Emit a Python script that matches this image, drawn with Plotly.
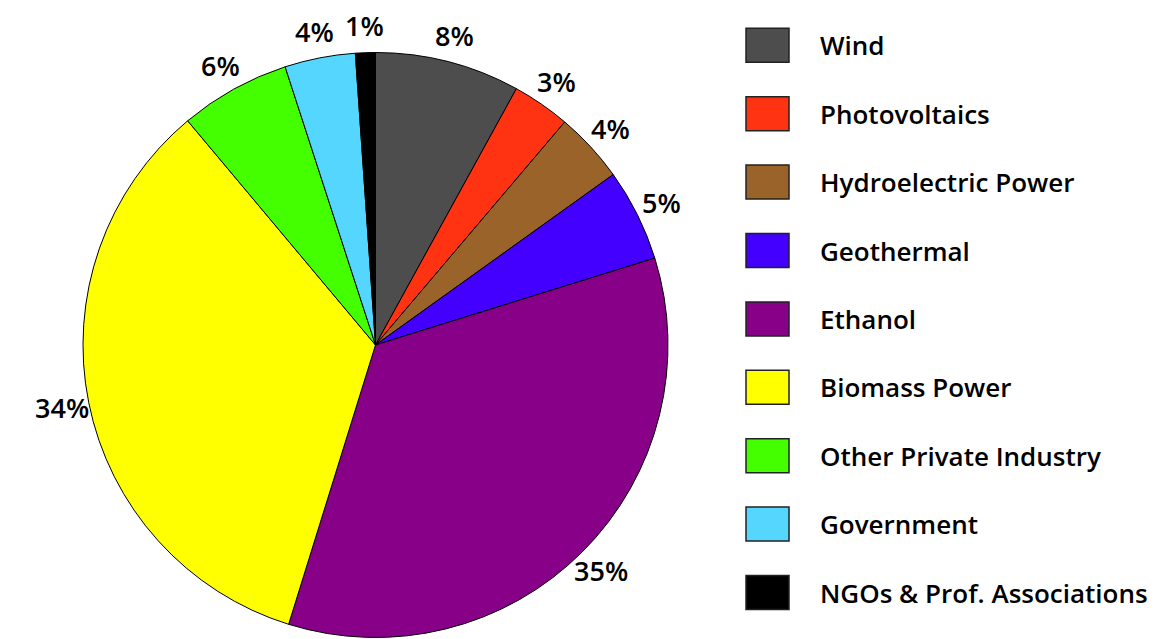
import math
import plotly.graph_objects as go

labels = ["Wind", "Photovoltaics", "Hydroelectric Power", "Geothermal", "Ethanol",
          "Biomass Power", "Other Private Industry", "Government", "NGOs & Prof. Associations"]
values = [8.0, 3.2, 3.9, 5.1, 34.6, 34.1, 6.1, 3.9, 1.1]
colors = ["#4d4d4d", "#ff3311", "#99632a", "#4400ff", "#880088",
          "#ffff00", "#44ff00", "#55d6ff", "#000000"]

W, H = 1161, 639
OX, OY = 8, 8          # page body offset of the figure
FONT = "Open Sans"

# pie geometry (figure pixels)
CX, CY, R = 375.5 - OX, 345 - OY, 292.5
LABEL_R = R + 27

fig = go.Figure(go.Pie(
    labels=labels, values=values, sort=False, direction="clockwise", rotation=0,
    marker=dict(colors=colors, line=dict(color="#000000", width=1)),
    textinfo="none",
    domain=dict(x=[(CX - R) / W, (CX + R) / W], y=[1 - (CY + R) / H, 1 - (CY - R) / H]),
    showlegend=False, hoverinfo="label+percent",
))

shapes, annotations = [], []

# percentage labels placed at each slice's mid-angle
total = sum(values)
cum = 0.0
for v in values:
    mid = (cum + v / 2) / total * 2 * math.pi
    cum += v
    x = CX + LABEL_R * math.sin(mid)
    y = CY - LABEL_R * math.cos(mid)
    annotations.append(dict(xref="paper", yref="paper", x=x / W, y=1 - y / H,
                            text=f"{round(v / total * 100)}%", showarrow=False,
                            xanchor="center", yanchor="middle",
                            font=dict(family=FONT, size=27, color="#000000", weight=600)))

# legend
row0, step = 45.3 - OY, 68.4
for i, (lab, col) in enumerate(zip(labels, colors)):
    cy = row0 + i * step
    shapes.append(dict(type="rect", xref="paper", yref="paper",
                       x0=(746 - OX) / W, x1=(789 - OX) / W,
                       y0=1 - (cy - 17) / H, y1=1 - (cy + 17) / H,
                       fillcolor=col, line=dict(color="#222222", width=1.5)))
    annotations.append(dict(xref="paper", yref="paper", x=(818 - OX) / W, y=1 - cy / H,
                            text=lab, showarrow=False, xanchor="left", yanchor="middle",
                            font=dict(family=FONT, size=26, color="#000000", weight=600)))

fig.update_layout(width=W, height=H, margin=dict(l=0, r=0, t=0, b=0, autoexpand=False),
                  paper_bgcolor="white", plot_bgcolor="white",
                  shapes=shapes, annotations=annotations)
fig.write_html("out.html")
